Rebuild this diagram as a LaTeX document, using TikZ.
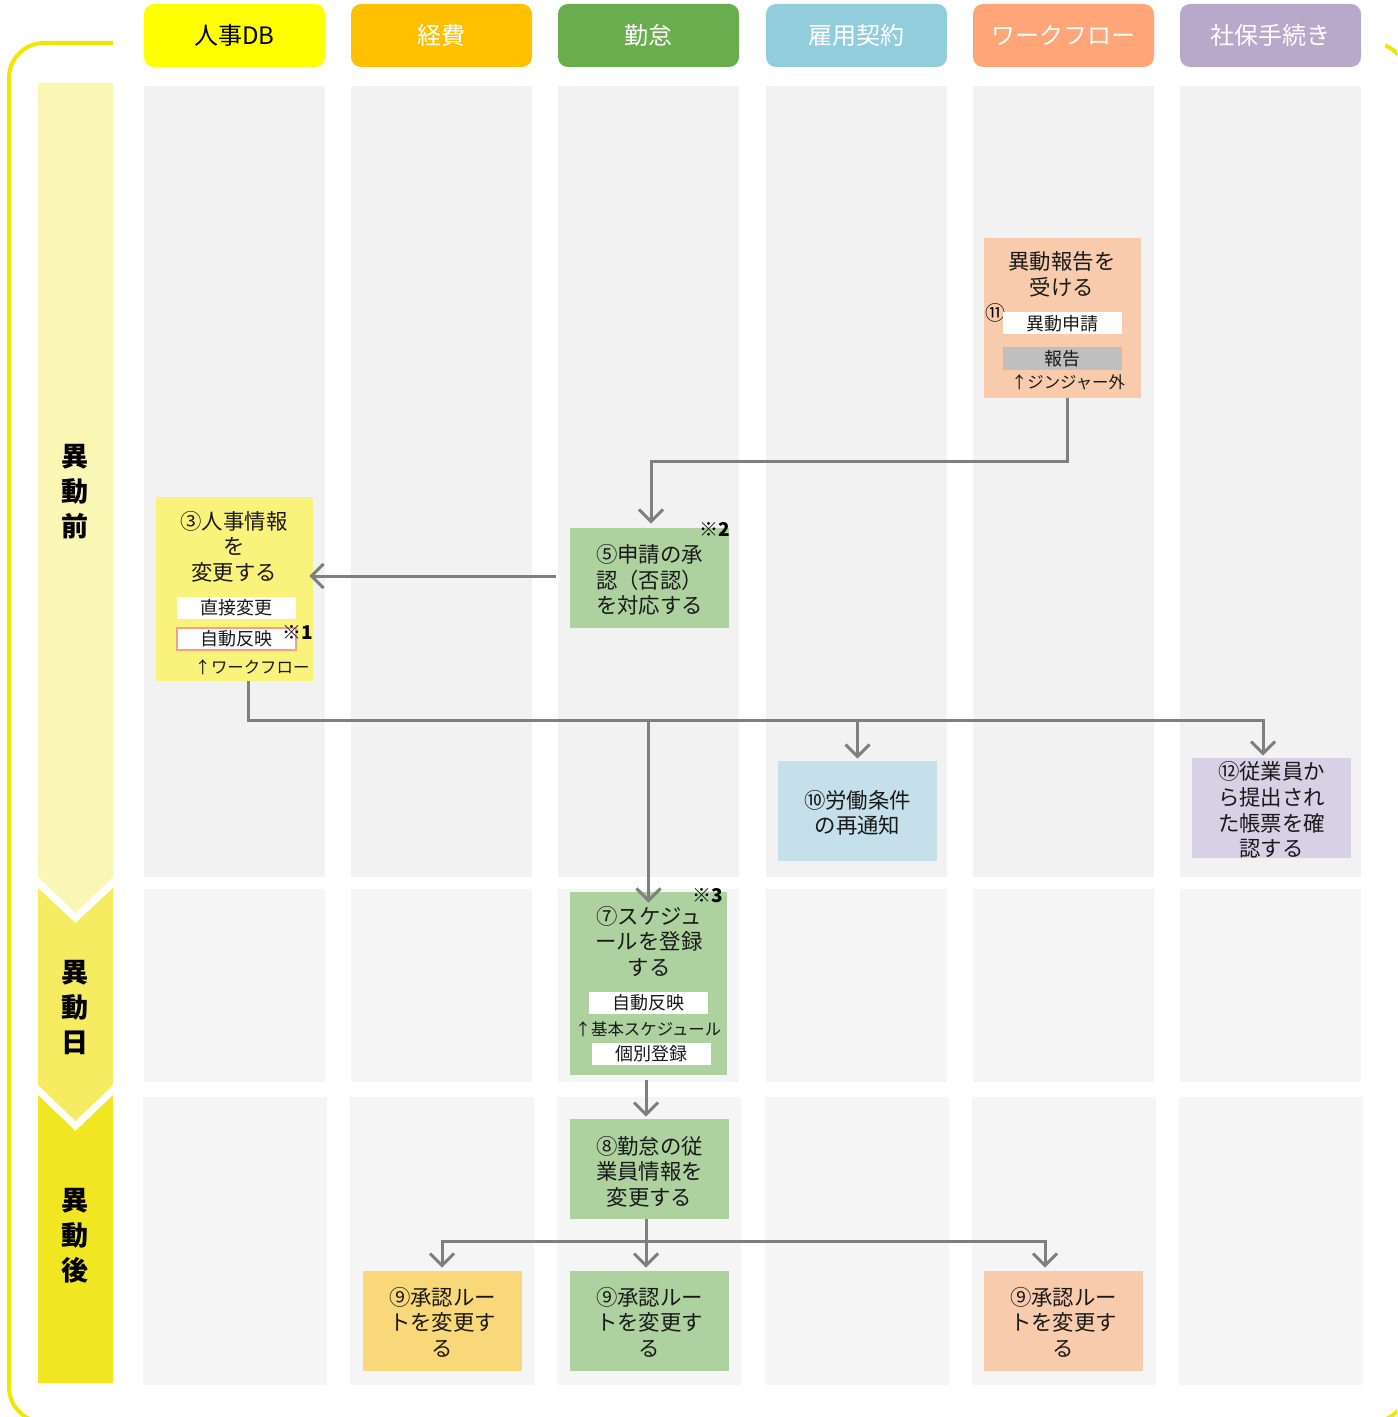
\documentclass[tikz,border=0pt]{standalone}
\usepackage{fontspec}
\setmainfont{Noto Sans CJK JP}
\usetikzlibrary{arrows.meta,calc}
\definecolor{frameY}{HTML}{F2E500}
\definecolor{bandA}{HTML}{FAF7B5}
\definecolor{bandB}{HTML}{F5EC62}
\definecolor{bandC}{HTML}{F0E622}
\definecolor{hY}{HTML}{FFFF00}
\definecolor{hO}{HTML}{FFC000}
\definecolor{hG}{HTML}{6AAD4E}
\definecolor{hB}{HTML}{92CDDC}
\definecolor{hS}{HTML}{FFA577}
\definecolor{hP}{HTML}{B8A9CB}
\definecolor{bgA}{HTML}{F2F2F2}
\definecolor{bgB}{HTML}{F5F5F5}
\definecolor{bxS}{HTML}{F8CBAD}
\definecolor{bxY}{HTML}{F9F27B}
\definecolor{bxG}{HTML}{AED1A0}
\definecolor{bxB}{HTML}{C5E0EA}
\definecolor{bxP}{HTML}{D8D0E4}
\definecolor{bxO}{HTML}{F9D87A}
\definecolor{grayBx}{HTML}{BFBFBF}
\definecolor{arrowgray}{HTML}{7F7F7F}
\definecolor{pinkline}{HTML}{F4A084}
\begin{document}
\begin{tikzpicture}[x=0.5pt,y=-0.5pt,
  hdr/.style={rounded corners=5pt,minimum width=90.5pt,minimum height=31.5pt,inner sep=0pt,font=\fontsize{12}{14}\selectfont,text=white},
  sidelabel/.style={align=center,inner sep=0pt,font=\bfseries\fontsize{13.5}{17.5}\selectfont},
  boxx/.style={inner sep=0pt,minimum width=79.5pt,minimum height=50pt},
  txt/.style={align=center,inner sep=0pt,font=\fontsize{10.7}{12.8}\selectfont,text=black!90},
  wbox/.style={fill=white,inner sep=0pt,minimum width=59.5pt,minimum height=11pt,font=\fontsize{9}{10}\selectfont,text=black!90},
  smalltxt/.style={inner sep=0pt,font=\fontsize{8.2}{9}\selectfont,text=black!90},
  note/.style={inner sep=0pt,font=\bfseries\fontsize{9.5}{10}\selectfont},
  arr/.style={draw=arrowgray,line width=1.5pt,-{Straight Barb[length=6pt,width=12pt]}}
]
\useasboundingbox (0,0) rectangle (1397,1417);

% outer yellow frame (open at the top between the headers)
\begin{scope}
  \clip (0,60) rectangle (1397,1417) (0,0) rectangle (113,60) (1385,0) rectangle (1397,60);
  \draw[frameY,line width=2pt,rounded corners=17.5pt] (9,43) rectangle (1407,1422);
\end{scope}

% left phase bands
\fill[bandA] (38,83) -- (113,83) -- (113,877) -- (75.5,913) -- (38,877) -- cycle;
\fill[bandB] (38,888) -- (75.5,923) -- (113,888) -- (113,1085) -- (75.5,1121) -- (38,1085) -- cycle;
\fill[bandC] (38,1095) -- (75.5,1131) -- (113,1095) -- (113,1383) -- (38,1383) -- cycle;
\node[sidelabel] (lab1) at (75,492) {異\\動\\前};
\node[sidelabel] (lab2) at (75,1007) {異\\動\\日};
\node[sidelabel] (lab3) at (75,1236) {異\\動\\後};

% column backgrounds
\foreach \a/\b in {144/325,351/532,558/739,766/947,973/1154,1180/1361}{
  \fill[bgA] (\a,86) rectangle (\b,877);
  \fill[bgB] (\a,889) rectangle (\b,1082);
  \fill[bgB] (\a-1,1097) rectangle (\b+2,1385);
}

% headers
\node[hdr,fill=hY,text=black] (h1) at (234.5,35.5) {人事DB};
\node[hdr,fill=hO] (h2) at (441.5,35.5) {経費};
\node[hdr,fill=hG] (h3) at (648.5,35.5) {勤怠};
\node[hdr,fill=hB] (h4) at (856.5,35.5) {雇用契約};
\node[hdr,fill=hS] (h5) at (1063.5,35.5) {ワークフロー};
\node[hdr,fill=hP] (h6) at (1270.5,35.5) {社保手続き};

% workflow box (11)
\node[boxx,fill=bxS,minimum width=78.5pt,minimum height=80pt] (wf) at (1062.5,318) {};
\node[txt] (wft) at (1062,274.5) {異動報告を\\受ける};
\node[inner sep=0pt,font=\fontsize{10}{11}\selectfont] (c11) at (995,313) {⑪};
\node[wbox] (wf1) at (1062.5,323.5) {異動申請};
\node[wbox,fill=grayBx] (wf2) at (1062.5,358.5) {報告};
\node[smalltxt] (wf3) at (1068,382) {↑ジンジャー外};

% HR DB box (3)
\node[boxx,fill=bxY,minimum width=78.5pt,minimum height=92pt] (n3) at (234.5,589) {};
\node[txt] (n3t) at (234,546.5) {③人事情報\\を\\変更する};
\node[wbox] (n3a) at (236.5,608) {直接変更};
\node[wbox,draw=pinkline,line width=0.6pt] (n3b) at (236.5,639) {自動反映};
\node[note] (m1) at (298,632) {※1};
\node[smalltxt] (n3c) at (252,667) {↑ワークフロー};

% approval box (5)
\node[boxx,fill=bxG] (n5) at (649.5,578) {};
\node[txt] (n5t) at (649.5,580) {⑤申請の承\\認（否認）\\を対応する};
\node[note] (m2) at (715,529) {※2};

% schedule box (7)
\node[boxx,fill=bxG,minimum width=78.5pt,minimum height=91.5pt] (n7) at (648.5,983.5) {};
\node[txt] (n7t) at (649,941.5) {⑦スケジュ\\ールを登録\\する};
\node[note] (m3) at (708,896) {※3};
\node[wbox] (n7a) at (648.5,1002.5) {自動反映};
\node[smalltxt] (n7b) at (648,1029) {↑基本スケジュール};
\node[wbox] (n7c) at (651.5,1053.5) {個別登録};

% (8)
\node[boxx,fill=bxG] (n8) at (649.5,1169) {};
\node[txt] (n8t) at (649.5,1171.5) {⑧勤怠の従\\業員情報を\\変更する};

% (9) x3
\node[boxx,fill=bxO] (n9a) at (442.5,1321) {};
\node[txt] (n9at) at (442.5,1322) {⑨承認ルー\\トを変更す\\る};
\node[boxx,fill=bxG] (n9b) at (649.5,1321) {};
\node[txt] (n9bt) at (649.5,1322) {⑨承認ルー\\トを変更す\\る};
\node[boxx,fill=bxS] (n9c) at (1063.5,1321) {};
\node[txt] (n9ct) at (1063.5,1322) {⑨承認ルー\\トを変更す\\る};

% (10)
\node[boxx,fill=bxB] (n10) at (857.5,811) {};
\node[txt] (n10t) at (857.5,813) {⑩労働条件\\の再通知};

% (12)
\node[boxx,fill=bxP] (n12) at (1271.5,808) {};
\node[txt] (n12t) at (1271.5,810) {⑫従業員か\\ら提出され\\た帳票を確\\認する};

% connectors
\draw[arr] ([xshift=2.25pt]wf.south) -- ++(0,63) -| ([xshift=0.75pt,yshift=2pt]n5.north);
\coordinate (a5) at ([xshift=-7pt,yshift=1pt]n5.west);
\draw[arr] (a5) -- ([xshift=-2pt]n3.east |- a5);
\coordinate (hr) at (1263,720);
\draw[arr] ([xshift=6.75pt]n3.south) |- (hr) -- ([yshift=1pt]hr |- n12.north);
\draw[arr] (n10.north |- hr) -- ([yshift=1pt]n10.north);
\draw[arr] (n7.north |- hr) -- ([yshift=-5.5pt]n7.north);
\draw[arr] ([xshift=-1.25pt,yshift=-2.5pt]n7.south) -- ([xshift=-1.75pt,yshift=1pt]n8.north);
\coordinate (hb) at (646,1241);
\draw[arr] ([xshift=-1.75pt]n8.south) -- ([xshift=-1.75pt,yshift=1.5pt]n9b.north);
\draw[arr] (hb) -| ([xshift=-0.25pt,yshift=1.5pt]n9a.north);
\draw[arr] (hb) -| ([xshift=-9.25pt,yshift=1.5pt]n9c.north);
\end{tikzpicture}
\end{document}
